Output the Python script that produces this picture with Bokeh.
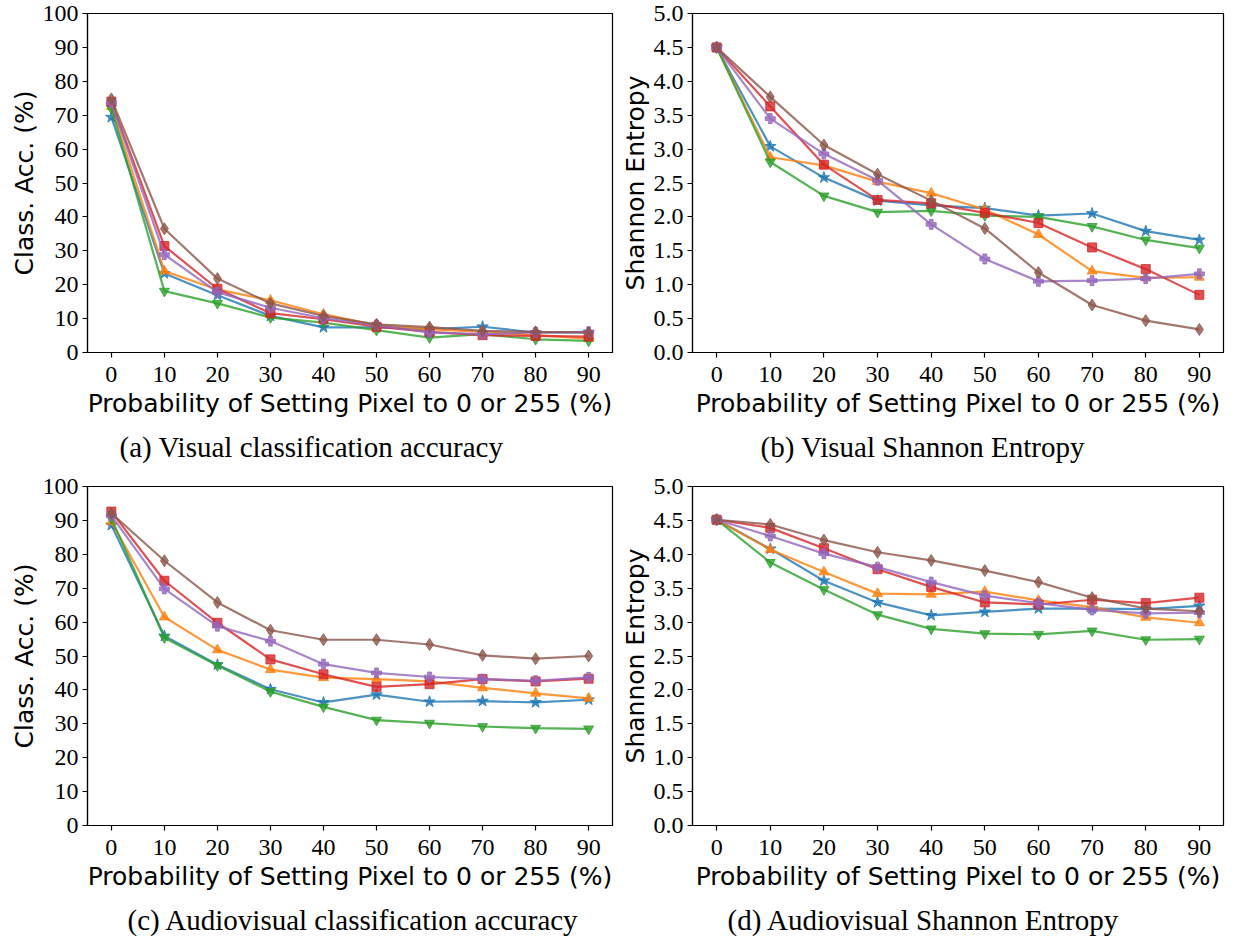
from bokeh.plotting import figure
from bokeh.layouts import column, row
from bokeh.models import FixedTicker, PrintfTickFormatter, Title
from bokeh.embed import file_html
from bokeh.resources import INLINE

x_vals = [0, 10, 20, 30, 40, 50, 60, 70, 80, 90]

colors = ["#1f77b4", "#ff7f0e", "#2ca02c", "#d62728", "#9467bd", "#8c564b"]
markers = ["star", "triangle", "inverted_triangle", "square", "plus", "diamond"]
marker_sizes = [12, 10, 10, 9, 10, 12]

# (a) Visual classification accuracy
vis_acc_blue = [69.4, 23.3, 16.9, 10.8, 7.4, 7.4, 6.9, 7.6, 5.9, 5.9]
vis_acc_orange = [72.5, 24.0, 18.6, 15.4, 11.3, 8.0, 6.9, 6.1, 5.1, 4.1]
vis_acc_green = [72.0, 18.1, 14.5, 10.3, 8.8, 6.6, 4.4, 5.4, 3.9, 3.4]
vis_acc_red = [74.0, 31.4, 18.8, 11.6, 9.8, 7.6, 6.1, 5.1, 4.9, 4.7]
vis_acc_purple = [73.7, 28.9, 17.8, 13.2, 10.1, 8.1, 5.9, 5.4, 5.9, 6.1]
vis_acc_brown = [74.8, 36.5, 21.8, 14.5, 10.8, 8.3, 7.5, 6.4, 6.1, 5.9]

# (b) Visual Shannon entropy
vis_ent_blue = [4.50, 3.04, 2.58, 2.24, 2.17, 2.13, 2.02, 2.05, 1.79, 1.66]
vis_ent_orange = [4.50, 2.88, 2.76, 2.52, 2.35, 2.11, 1.74, 1.20, 1.10, 1.11]
vis_ent_green = [4.50, 2.81, 2.31, 2.07, 2.09, 2.02, 2.00, 1.86, 1.66, 1.54]
vis_ent_red = [4.50, 3.63, 2.77, 2.25, 2.20, 2.06, 1.91, 1.55, 1.23, 0.85]
vis_ent_purple = [4.50, 3.45, 2.93, 2.54, 1.89, 1.38, 1.05, 1.06, 1.09, 1.16]
vis_ent_brown = [4.50, 3.77, 3.06, 2.63, 2.24, 1.83, 1.18, 0.70, 0.47, 0.34]

# (c) Audiovisual classification accuracy
av_acc_blue = [88.6, 55.9, 47.4, 40.2, 36.3, 38.6, 36.5, 36.7, 36.3, 37.1]
av_acc_orange = [89.6, 61.5, 51.8, 46.0, 43.6, 43.2, 42.5, 40.6, 39.0, 37.5]
av_acc_green = [90.6, 55.4, 47.2, 39.5, 35.0, 31.1, 30.2, 29.2, 28.7, 28.5]
av_acc_red = [92.6, 72.2, 59.8, 49.0, 44.6, 40.9, 41.7, 43.2, 42.5, 43.3]
av_acc_purple = [91.4, 69.8, 58.8, 54.4, 47.6, 45.0, 43.8, 43.2, 42.7, 43.7]
av_acc_brown = [92.1, 78.1, 65.8, 57.6, 54.8, 54.8, 53.4, 50.2, 49.2, 50.0]

# (d) Audiovisual Shannon entropy
av_ent_blue = [4.51, 4.08, 3.61, 3.29, 3.10, 3.15, 3.20, 3.20, 3.19, 3.24]
av_ent_orange = [4.51, 4.07, 3.74, 3.42, 3.41, 3.45, 3.32, 3.22, 3.07, 2.99]
av_ent_green = [4.51, 3.88, 3.48, 3.11, 2.90, 2.83, 2.82, 2.87, 2.74, 2.75]
av_ent_red = [4.51, 4.39, 4.09, 3.78, 3.52, 3.29, 3.26, 3.33, 3.28, 3.36]
av_ent_purple = [4.51, 4.27, 4.01, 3.81, 3.59, 3.39, 3.28, 3.18, 3.13, 3.14]
av_ent_brown = [4.51, 4.44, 4.21, 4.03, 3.91, 3.76, 3.59, 3.36, 3.20, 3.16]

x_label = "Probability of Setting Pixel to 0 or 255 (%)"
acc_ticks = [0, 10, 20, 30, 40, 50, 60, 70, 80, 90, 100]
ent_ticks = [0.0, 0.5, 1.0, 1.5, 2.0, 2.5, 3.0, 3.5, 4.0, 4.5, 5.0]

SERIF = "Liberation Serif"
SANS = "DejaVu Sans"


def make_panel(series, y_range, y_ticks, y_label, caption, caption_offset,
               width, height, bl, bt, br, bb, ent=False):
    p = figure(width=width, height=height, x_range=(-4.5, 94.5), y_range=y_range,
               output_backend="svg", toolbar_location=None,
               min_border_left=bl, min_border_top=bt, min_border_right=br,
               min_border_bottom=bb)
    p.xgrid.grid_line_color = None
    p.ygrid.grid_line_color = None
    p.outline_line_color = "black"
    p.outline_line_width = 1.2
    p.outline_line_alpha = 1.0
    p.background_fill_color = "white"
    p.border_fill_color = "white"
    for ax in (p.xaxis[0], p.yaxis[0]):
        ax.axis_line_color = "black"
        ax.axis_line_width = 1.2
        ax.major_tick_line_color = "black"
        ax.major_tick_line_width = 1.2
        ax.major_tick_out = 5
        ax.major_tick_in = 0
        ax.minor_tick_line_color = None
        ax.major_label_text_font = SERIF
        ax.major_label_text_font_size = "24px"
        ax.major_label_text_color = "black"
        ax.axis_label_text_font = SANS
        ax.axis_label_text_font_size = "25px"
        ax.axis_label_text_font_style = "normal"
        ax.axis_label_text_color = "black"
    p.xaxis.ticker = FixedTicker(ticks=x_vals)
    p.yaxis.ticker = FixedTicker(ticks=y_ticks)
    if ent:
        p.yaxis.formatter = PrintfTickFormatter(format="%.1f")
    p.xaxis.axis_label = x_label
    p.yaxis.axis_label = y_label
    p.xaxis.major_label_standoff = 9
    p.xaxis.axis_label_standoff = 4
    p.yaxis.major_label_standoff = 4
    p.yaxis.axis_label_standoff = 1
    for ys, c, m, s in zip(series, colors, markers, marker_sizes):
        p.line(x_vals, ys, line_color=c, line_width=2.2, line_alpha=0.8)
        p.scatter(x_vals, ys, marker=m, size=s, fill_color=c, line_color=c,
                  fill_alpha=0.8, line_alpha=0.8)
    t = Title(text=caption, align="left", offset=caption_offset,
              text_font=SERIF, text_font_size="29px", text_font_style="normal",
              text_color="black", standoff=17)
    p.add_layout(t, "below")
    return p


pa = make_panel([vis_acc_blue, vis_acc_orange, vis_acc_green, vis_acc_red, vis_acc_purple, vis_acc_brown],
                (0, 100), acc_ticks, "Class. Acc. (%)", "(a) Visual classification accuracy", 32,
                615, 471, 87, 13, 3, 118)
pb = make_panel([vis_ent_blue, vis_ent_orange, vis_ent_green, vis_ent_red, vis_ent_purple, vis_ent_brown],
                (0, 5), ent_ticks, "Shannon Entropy", "(b) Visual Shannon Entropy", 68,
                610, 471, 77, 12, 2, 117, ent=True)
pc = make_panel([av_acc_blue, av_acc_orange, av_acc_green, av_acc_red, av_acc_purple, av_acc_brown],
                (0, 100), acc_ticks, "Class. Acc. (%)", "(c) Audiovisual classification accuracy", 40,
                615, 473, 87, 15, 3, 118)
pd_ = make_panel([av_ent_blue, av_ent_orange, av_ent_green, av_ent_red, av_ent_purple, av_ent_brown],
                 (0, 5), ent_ticks, "Shannon Entropy", "(d) Audiovisual Shannon Entropy", 35,
                 610, 473, 77, 13, 2, 118, ent=True)

layout = column(row(pa, pb), row(pc, pd_))
open("out.html", "w").write(file_html(layout, INLINE))
